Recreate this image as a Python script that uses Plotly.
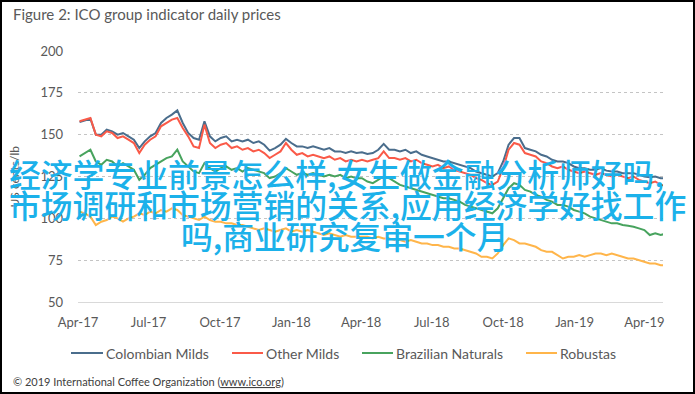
import plotly.graph_objects as go
import pandas as pd

# ---------------- data ----------------
dates = pd.date_range("2017-04-03", periods=109, freq="7D")

colombian_milds = [
    157.5, 158.5, 159.5, 150, 150, 153, 152, 150, 151, 149,
    147, 142, 146, 149, 151, 157, 160, 162, 164.5, 157,
    151, 148, 147, 158, 149, 146, 148, 149, 146, 147,
    146, 147, 145, 146, 144, 140.5, 142, 144, 147.5, 145,
    143, 143, 142, 143, 142, 141, 142, 140, 140, 139,
    140, 139, 139.5, 138.5, 139, 141, 144.5, 141, 141, 140,
    141, 139, 140, 138, 137, 136, 135, 134, 134, 133,
    132, 131, 130, 128, 127, 126, 125, 127, 134, 144,
    148, 148, 142, 141, 140, 138, 137, 135, 134, 134,
    133, 131, 130, 130, 129, 129, 130, 128.5, 128, 128,
    127, 127, 127, 126, 125, 124.5, 125, 124, 124,
]
other_milds = [
    158, 159, 160, 150, 149, 152, 151, 148, 149, 147,
    145, 139, 144, 147, 149, 155, 157, 159, 160, 154,
    149, 143, 142, 156, 145, 142, 144, 145, 142, 143,
    141, 142, 140, 141, 139, 136, 138, 140, 145, 141,
    138, 139, 137, 138, 137, 136, 137, 135, 136, 134,
    135, 134, 135, 134, 135, 136, 140, 136, 136, 135,
    136, 134, 135, 133, 132, 131, 132, 130, 131, 129,
    128, 127, 126, 124, 123, 121, 120, 122, 130, 141,
    145, 144, 139, 138, 137, 134, 133, 131, 130, 131,
    129, 128, 127, 128, 127, 126, 127, 126, 125, 126,
    125, 124, 125, 123, 122, 121, 122, 120, 119.5,
]
brazilian_naturals = [
    137, 139, 141, 134, 132, 135, 134, 131, 133, 131,
    129, 123, 126, 130, 132, 134, 136, 137, 141, 134,
    131, 128, 127, 133, 130, 128, 130, 131, 129, 130,
    128, 130, 129, 128, 127, 124, 125, 127, 130, 128,
    126, 127, 126, 127, 126, 125, 126, 125, 126, 124,
    125, 124, 124, 122, 121, 123, 125, 124, 122, 120,
    119, 118, 117, 116, 115, 114, 113, 112, 112, 111,
    110, 108, 107, 106, 105, 104, 103, 106, 112, 118,
    121, 120, 117, 116, 114, 113, 111, 110, 108, 108,
    107, 105, 104, 103, 101, 100, 99, 98, 97, 97,
    96, 95.5, 95, 94, 93, 90, 91, 90, 91,
]
robustas = [
    104, 103, 101, 96, 98, 99, 101, 100, 98, 100,
    101, 103, 102, 104, 103, 105, 104, 106, 105, 102,
    101, 100, 99, 101, 99, 98, 98, 97, 97, 96,
    96, 95, 94, 93, 94, 93, 92, 93, 94, 92,
    93, 92, 93, 92, 91, 90, 91, 90, 89, 90,
    89, 89, 89, 89, 88, 89, 88, 88, 87, 87,
    86, 87, 86, 85, 85, 84, 84, 83, 83, 82,
    82, 81, 80, 79, 77, 77, 76, 79, 84, 88,
    87, 85, 85, 84, 83, 81, 80, 80, 78, 76,
    77, 77, 78, 77, 78, 79, 79, 78, 79, 78,
    77, 76, 76, 75, 74, 73, 73, 72, 72,
]

series_names = ["Colombian Milds", "Other Milds", "Brazilian Naturals", "Robustas"]
series_colors = ["#4a6d8c", "#fa5a48", "#48a35e", "#ffb54a"]

x_tick_dates = ["2017-04-01", "2017-07-01", "2017-10-01", "2018-01-01", "2018-04-01",
                "2018-07-01", "2018-10-01", "2019-01-01", "2019-04-01"]
x_tick_labels = ["Apr-17", "Jul-17", "Oct-17", "Jan-18", "Apr-18",
                 "Jul-18", "Oct-18", "Jan-19", "Apr-19"]
y_tick_values = [50, 75, 100, 125, 150, 175, 200]

title_text = "Figure 2: ICO group indicator daily prices"
y_title_text = "US cents/lb"
footer_text = "© 2019 International Coffee Organization (<u>www.ico.org</u>)"
overlay_lines = [
    "经济学专业前景怎么样,女生做金融分析师好吗,",
    "市场调研和市场营销的关系,应用经济学好找工作",
    "吗,商业研究复审一个月",
]

# ---------------- layout geometry ----------------
W, H = 695, 394
L, R, T, B = 78, 32, 51, 92
PW, PH = W - L - R, H - T - B


def px(x):
    return (x - L) / PW


def py(y):
    return (H - B - y) / PH


FONT = "Lato"
GREY = "#595959"

fig = go.Figure()
for name, color, vals in zip(series_names, series_colors,
                             [colombian_milds, other_milds, brazilian_naturals, robustas]):
    fig.add_trace(go.Scatter(x=dates, y=vals, mode="lines", name=name,
                             line=dict(color=color, width=2), hoverinfo="skip",
                             showlegend=False))

annotations = [
    dict(text=title_text, x=px(11), y=py(14), xanchor="left", yanchor="middle",
         font=dict(family=FONT, size=15, color=GREY)),
    dict(text=y_title_text, x=px(14), y=0.5, textangle=-90, xanchor="center", yanchor="middle",
         font=dict(family=FONT, size=12, color=GREY)),
    dict(text=footer_text, x=px(11), y=py(381), xanchor="left", yanchor="middle",
         font=dict(family=FONT, size=11, color="#404040")),
]
overlay_pos = [(7, 173), (7, 204), (179, 235)]
for txt, (ox, oy) in zip(overlay_lines, overlay_pos):
    annotations.append(dict(text=txt, x=px(ox), y=py(oy), xanchor="left", yanchor="middle",
                            font=dict(family="Noto Sans CJK SC", size=31.8, weight=500,
                                      color="#1bb1ea")))

LEG_Y = 353
legend_slots = [(71, 103), (232, 263), (362, 393), (526, 557)]
shapes = []
for name, color, (lx0, lx1) in zip(series_names, series_colors, legend_slots):
    shapes.append(dict(type="line", xref="paper", yref="paper",
                       x0=px(lx0), x1=px(lx1), y0=py(LEG_Y), y1=py(LEG_Y),
                       line=dict(color=color, width=2)))
    annotations.append(dict(text=name, x=px(lx1 + 1), y=py(LEG_Y), xanchor="left",
                            yanchor="middle", font=dict(family=FONT, size=14, color=GREY)))

for a in annotations:
    a.update(xref="paper", yref="paper", showarrow=False)

shapes.append(dict(type="rect", xref="paper", yref="paper",
                   x0=px(1), x1=px(694), y0=py(393), y1=py(1),
                   line=dict(color="black", width=2), fillcolor="rgba(0,0,0,0)"))

fig.update_layout(
    width=W, height=H, autosize=False,
    margin=dict(l=L, r=R, t=T, b=B, pad=0, autoexpand=False),
    paper_bgcolor="white", plot_bgcolor="white",
    showlegend=False,
    xaxis=dict(type="date", range=["2017-04-01", "2019-04-25"],
               tickvals=x_tick_dates, ticktext=x_tick_labels, ticks="",
               showgrid=False, showline=True, linecolor="#d9d9d9", linewidth=1,
               zeroline=False, ticklabelstandoff=8,
               tickfont=dict(family=FONT, size=13, color=GREY)),
    yaxis=dict(range=[50, 200], tickvals=y_tick_values, ticks="",
               showgrid=True, gridcolor="#c4c4c4", griddash="dot", gridwidth=1,
               showline=False, zeroline=False, ticklabelstandoff=14,
               tickfont=dict(family=FONT, size=13, color=GREY)),
    annotations=annotations,
    shapes=shapes,
)

fig.write_html("out.html", config={"displayModeBar": False},
               post_script="document.body.style.margin='0';document.body.style.overflow='hidden';")
